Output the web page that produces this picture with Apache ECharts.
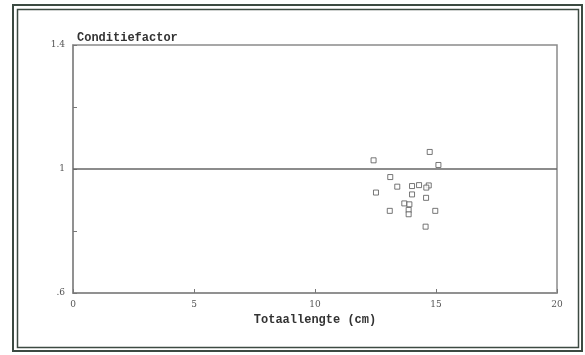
<!DOCTYPE html>
<html>
<head>
<meta charset="utf-8">
<script src="https://cdn.jsdelivr.net/npm/echarts@6/dist/echarts.min.js"></script>
<style>html,body{margin:0;padding:0;background:#fff}#c{width:585px;height:355px}</style>
</head>
<body>
<div id="c"></div>
<script>
// Data
const lengthCm = [12.42, 14.74, 15.10, 13.11, 13.40, 14.01, 14.30, 14.70, 14.60, 12.52, 14.01, 14.59, 13.69, 13.90, 13.87, 13.87, 13.09, 14.97, 14.57];
const conditionFactor = [1.028, 1.055, 1.013, 0.974, 0.943, 0.945, 0.948, 0.947, 0.940, 0.924, 0.918, 0.907, 0.889, 0.886, 0.868, 0.854, 0.865, 0.865, 0.814];
const xTickLabels = ['0', '5', '10', '15', '20'];
const yTickLabels = { '1.4': '1.4', '1': '1', '0.6': '.6' };
const referenceLevel = 1;

const points = lengthCm.map((x, i) => [x, conditionFactor[i]]);
const chart = echarts.init(document.getElementById('c'), null, { renderer: 'canvas' });
chart.setOption({
  backgroundColor: '#fff',
  animation: false,
  title: {
    text: 'Conditiefactor',
    left: 72, top: 27,
    textStyle: { fontFamily: 'Liberation Mono', fontWeight: 'bold', fontSize: 12, color: '#333' }
  },
  grid: { left: 73, right: 28, top: 45, bottom: 62, show: true, borderColor: '#8a8a8a', borderWidth: 1.5, backgroundColor: 'transparent' },
  xAxis: {
    type: 'value', min: 0, max: 20, interval: 5,
    name: 'Totaallengte (cm)', nameLocation: 'middle', nameGap: 21,
    nameTextStyle: { fontFamily: 'Liberation Mono', fontWeight: 'bold', fontSize: 12, color: '#333' },
    axisLine: { lineStyle: { color: '#8a8a8a', width: 1.5 } },
    axisTick: { inside: true, length: 4, lineStyle: { color: '#777' } },
    axisLabel: { margin: 7, fontFamily: 'DejaVu Serif', fontSize: 9, color: '#555',
      formatter: v => xTickLabels[Math.round(v / 5)] },
    splitLine: { show: false }
  },
  yAxis: {
    type: 'value', min: 0.6, max: 1.4, interval: 0.2,
    axisLine: { show: true, lineStyle: { color: '#8a8a8a', width: 1.5 } },
    axisTick: { show: true, inside: true, length: 4, lineStyle: { color: '#777' } },
    axisLabel: { margin: 8, fontFamily: 'DejaVu Serif', fontSize: 9, color: '#555',
      formatter: v => { const k = String(Math.round(v * 10) / 10); return yTickLabels[k] || ''; } },
    splitLine: { show: false }
  },
  graphic: [
    { type: 'rect', shape: { x: 13, y: 5, width: 569, height: 346 }, style: { fill: 'none', stroke: '#3c4a42', lineWidth: 2 } },
    { type: 'rect', shape: { x: 17.5, y: 9.5, width: 561, height: 338 }, style: { fill: 'none', stroke: '#3c4a42', lineWidth: 1.5 } }
  ],
  series: [{
    type: 'scatter',
    data: points,
    symbol: 'rect', symbolSize: 5,
    itemStyle: { color: '#fff', borderColor: '#555', borderWidth: 1 },
    markLine: {
      silent: true, symbol: 'none', label: { show: false },
      lineStyle: { color: '#666', width: 1.5, type: 'solid' },
      data: [{ yAxis: referenceLevel }]
    }
  }]
});
</script>
</body>
</html>
